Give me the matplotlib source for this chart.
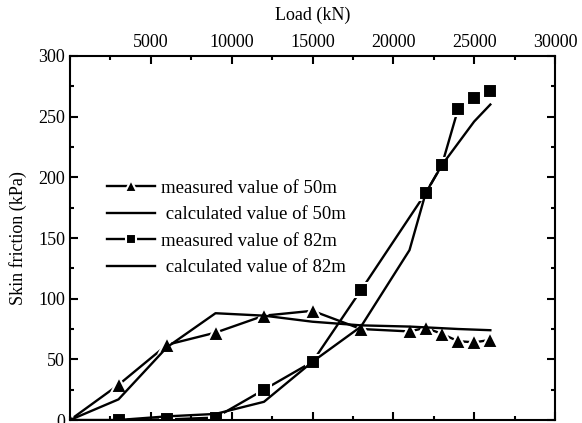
import matplotlib
matplotlib.use("Agg")
import matplotlib.pyplot as plt
from matplotlib.ticker import MultipleLocator

plt.rcParams['font.family'] = ['Liberation Serif', 'DejaVu Serif']

x_m50 = [0, 3000, 6000, 9000, 12000, 15000, 18000, 21000, 22000, 23000, 24000, 25000, 26000]
y_m50 = [0, 29, 62, 72, 86, 90, 75, 73, 76, 71, 65, 64, 66]

x_c50 = [0, 3000, 6000, 9000, 12000, 15000, 18000, 21000, 24000, 26000]
y_c50 = [0, 17, 60, 88, 86, 81, 78, 77, 75, 74]

x_m82 = [3000, 6000, 9000, 12000, 15000, 18000, 22000, 23000, 24000, 25000, 26000]
y_m82 = [0, 0.5, 2, 25, 48, 107, 187, 210, 256, 265, 271]

x_c82 = [0, 3000, 6000, 9000, 12000, 15000, 18000, 21000, 22000, 23000, 24000, 25000, 26000]
y_c82 = [0, 0, 3, 5, 15, 48, 77, 140, 187, 210, 228, 246, 260]

labels = ['measured value of 50m', ' calculated value of 50m',
          'measured value of 82m', ' calculated value of 82m']

fig = plt.figure(figsize=(5.82, 4.23), dpi=100)
ax = fig.add_axes([70/582, 3/423, 485/582, 364/423])

mk = dict(color='black', lw=1.7, markeredgecolor='white', markeredgewidth=1.5)
ax.plot(x_m50, y_m50, marker='^', markersize=12, label=labels[0], **mk)
ax.plot(x_c50, y_c50, color='black', lw=1.7, label=labels[1])
ax.plot(x_m82, y_m82, marker='s', markersize=10.5, label=labels[2], **mk)
ax.plot(x_c82, y_c82, color='black', lw=1.7, label=labels[3])

ax.set_xlim(0, 30000)
ax.set_ylim(0, 300)
ax.xaxis.set_major_locator(MultipleLocator(5000))
ax.xaxis.set_minor_locator(MultipleLocator(2500))
ax.yaxis.set_major_locator(MultipleLocator(50))
ax.yaxis.set_minor_locator(MultipleLocator(25))
ax.xaxis.tick_top()
ax.xaxis.set_label_position('top')
ax.tick_params(axis='x', which='both', top=True, bottom=True, direction='in',
               labeltop=True, labelbottom=False, labelsize=13, width=1.5)
ax.tick_params(axis='x', which='major', length=6)
ax.tick_params(axis='x', which='minor', length=3)
ax.tick_params(axis='y', which='both', left=True, right=True, direction='in',
               labelsize=13, width=1.5)
ax.tick_params(axis='y', which='major', length=6)
ax.tick_params(axis='y', which='minor', length=3)
ax.set_xticks([5000, 10000, 15000, 20000, 25000, 30000])
for s in ax.spines.values():
    s.set_linewidth(1.5)

ax.set_xlabel('Load (kN)', fontsize=13, labelpad=10)
ax.set_ylabel('Skin friction (kPa)', fontsize=13, labelpad=8)

ax.legend(loc='upper left', bbox_to_anchor=(0.06, 0.681), frameon=False,
          fontsize=13.5, handlelength=2.6, handletextpad=0.3, labelspacing=0.5,
          borderaxespad=0, markerscale=0.7)

fig.savefig('out.png', dpi=100)
